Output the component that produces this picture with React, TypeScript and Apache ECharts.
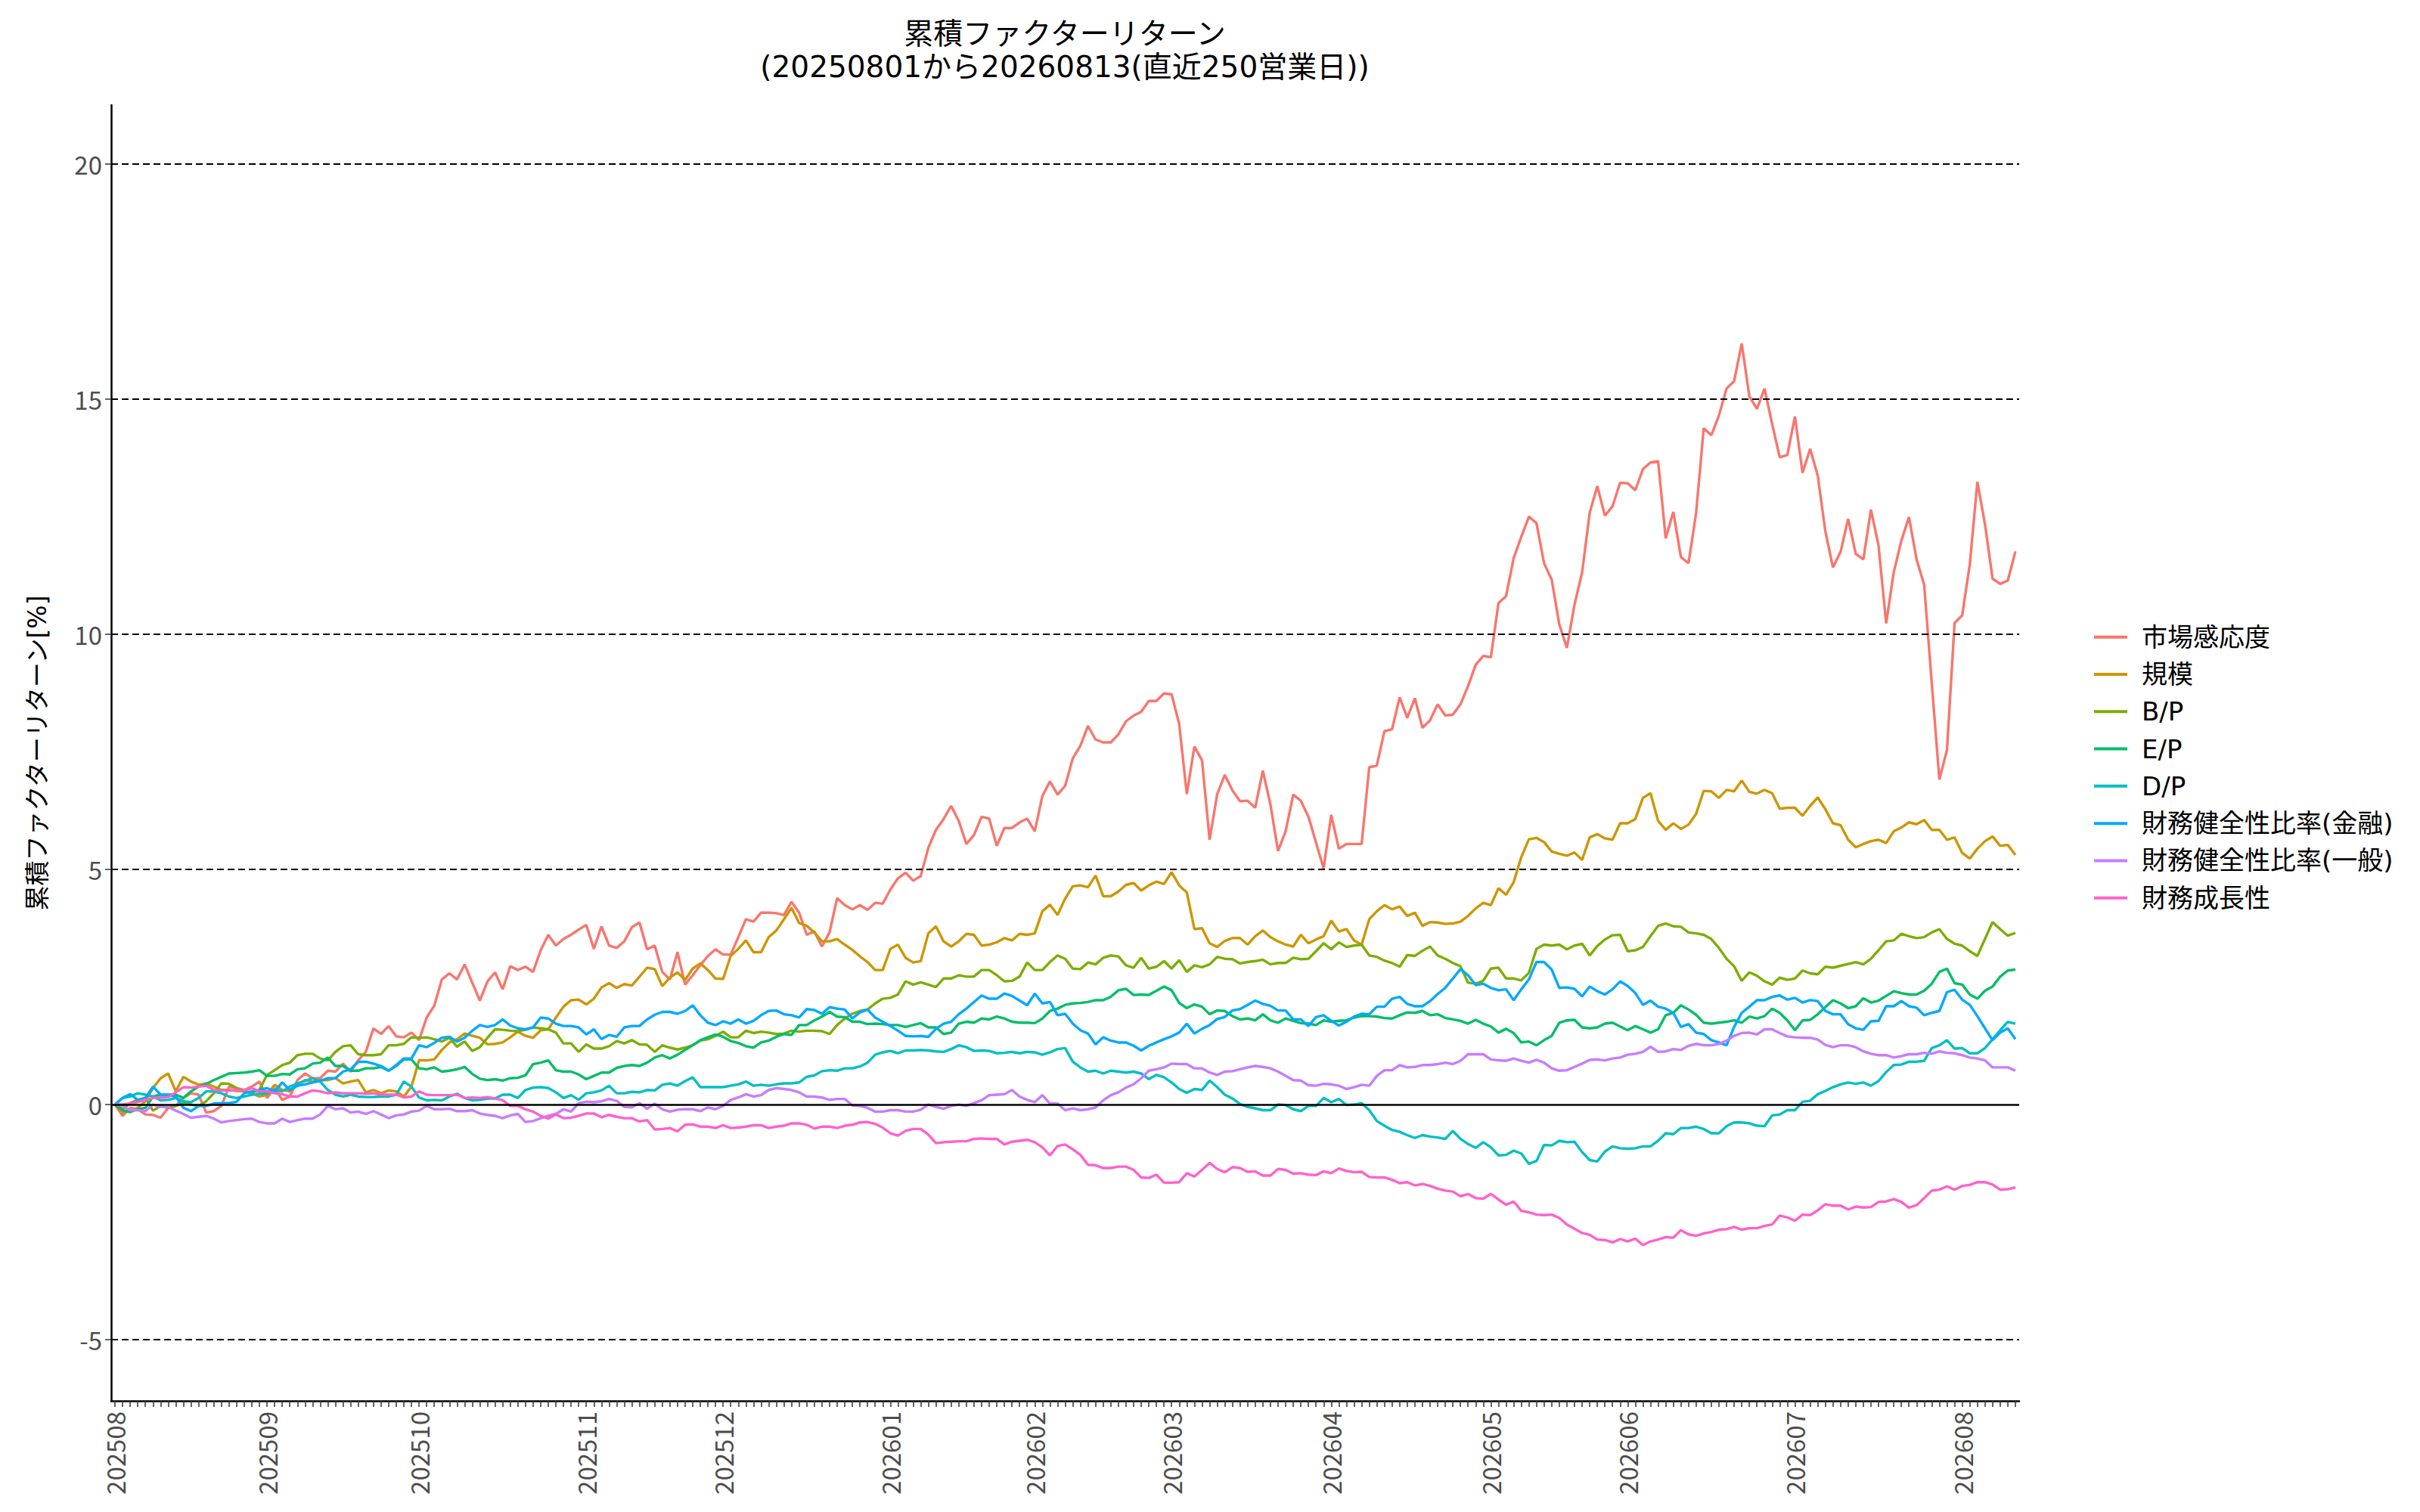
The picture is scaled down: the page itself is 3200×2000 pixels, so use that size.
import React, { useEffect, useRef } from "react";
import * as echarts from "echarts";

const titleLine1 = "累積ファクターリターン";
const titleLine2 = "(20250801から20260813(直近250営業日))";
const yAxisTitle = "累積ファクターリターン[%]";

const monthLabels = ["202508", "202509", "202510", "202511", "202512", "202601", "202602", "202603", "202604", "202605", "202606", "202607", "202608"];
const monthDays = [20, 20, 22, 18, 22, 19, 18, 21, 21, 18, 22, 22, 8];

const seriesNames = ["市場感応度", "規模", "B/P", "E/P", "D/P", "財務健全性比率(金融)", "財務健全性比率(一般)", "財務成長性"];
const seriesColors = ["#F8766D", "#CD9600", "#7CAE00", "#00BE67", "#00BFC4", "#00A9FF", "#C77CFF", "#FF61CC"];

const yTicks = [-5, 0, 5, 10, 15, 20];
const dashedLevels = [-5, 5, 10, 15, 20];

const mkt = [
  0, -0.24, -0.07, -0.10, -0.21, -0.22, -0.28, -0.07, -0.03, 0.14, 0.24, 0.21, -0.17, -0.14, -0.03, 0.38, 0.35, 0.31, 0.38, 0.49, 0.14, 0.35, 0.10, 0.17, 0.52, 0.66, 0.56, 0.56, 0.72, 0.70, 0.87, 0.70, 0.94, 1.12, 1.62, 1.50, 1.67, 1.45, 1.43, 1.53, 1.37, 1.85,
  2.10, 2.66, 2.79, 2.66, 2.98, 2.59, 2.21, 2.62, 2.81, 2.45, 2.94, 2.86, 2.93, 2.82, 3.28, 3.61, 3.38, 3.52, 3.61, 3.72, 3.82, 3.31, 3.79, 3.38, 3.33, 3.47, 3.77, 3.87, 3.30, 3.38, 2.82, 2.66, 3.24, 2.55, 2.75, 2.96, 3.16, 3.30, 3.19, 3.19, 3.56, 3.94,
  3.89, 4.08, 4.08, 4.07, 4.03, 4.31, 4.08, 3.61, 3.68, 3.36, 3.66, 4.39, 4.24, 4.15, 4.24, 4.14, 4.29, 4.27, 4.57, 4.81, 4.93, 4.76, 4.86, 5.46, 5.84, 6.07, 6.35, 6.03, 5.54, 5.73, 6.12, 6.08, 5.50, 5.88, 5.88, 6.00, 6.08, 5.81, 6.56, 6.87, 6.59, 6.78,
  7.36, 7.63, 8.05, 7.76, 7.70, 7.70, 7.87, 8.15, 8.27, 8.35, 8.58, 8.58, 8.74, 8.72, 8.09, 6.60, 7.61, 7.32, 5.63, 6.60, 7.01, 6.68, 6.45, 6.46, 6.31, 7.10, 6.38, 5.39, 5.81, 6.59, 6.46, 6.12, 5.57, 5.02, 6.16, 5.44, 5.54, 5.54, 5.54, 7.17, 7.21, 7.94,
  7.98, 8.66, 8.22, 8.64, 8.01, 8.17, 8.51, 8.27, 8.29, 8.51, 8.90, 9.35, 9.54, 9.51, 10.66, 10.81, 11.62, 12.07, 12.50, 12.36,
  11.51, 11.16, 10.21, 9.71, 10.63, 11.31, 12.58, 13.15, 12.52, 12.72, 13.22, 13.21, 13.06, 13.51, 13.65, 13.68, 12.04, 12.60, 11.64, 11.51, 12.58, 14.38, 14.23, 14.65, 15.22, 15.38, 16.18, 15.06, 14.79, 15.22, 14.47, 13.76, 13.81, 14.63, 13.43, 13.94, 13.37, 12.19, 11.42, 11.75, 12.45, 11.71, 11.59, 12.65, 11.88, 10.23, 11.32, 11.99, 12.49, 11.59, 11.05, 8.96, 6.91, 7.54, 10.24, 10.40, 11.48, 13.24, 12.34, 11.18, 11.07, 11.14, 11.76,
];

const size = [
  0, -0.17, -0.14, -0.07, 0.07, 0.35, 0.56, 0.66, 0.28, 0.59, 0.49, 0.42, 0.45, 0.38, 0.31, 0.31, 0.29, 0.28, 0.24, 0.17, 0.21, 0.42, 0.31, 0.28, 0.42, 0.52, 0.49, 0.52, 0.52, 0.56, 0.45, 0.49, 0.52, 0.26, 0.31, 0.24, 0.30, 0.28, 0.17, 0.38, 0.94, 0.94,
  0.96, 1.16, 1.32, 1.39, 1.51, 1.46, 1.42, 1.28, 1.29, 1.32, 1.43, 1.55, 1.46, 1.42, 1.58, 1.60, 1.85, 2.08, 2.22, 2.23, 2.13, 2.25, 2.49, 2.58, 2.48, 2.56, 2.53, 2.72, 2.91, 2.88, 2.52, 2.70, 2.81, 2.65, 2.89, 3.00, 2.86, 2.68, 2.67, 3.16, 3.31, 3.49,
  3.24, 3.24, 3.56, 3.70, 3.94, 4.18, 3.86, 3.80, 3.66, 3.47, 3.47, 3.52, 3.40, 3.29, 3.15, 3.03, 2.86, 2.86, 3.31, 3.40, 3.12, 3.02, 3.05, 3.64, 3.79, 3.47, 3.36, 3.47, 3.63, 3.61, 3.38, 3.40, 3.45, 3.54, 3.49, 3.63, 3.61, 3.64, 4.11, 4.25, 4.03, 4.38,
  4.64, 4.66, 4.62, 4.87, 4.43, 4.43, 4.53, 4.67, 4.71, 4.55, 4.66, 4.74, 4.69, 4.94, 4.66, 4.51, 3.73, 3.75, 3.43, 3.35, 3.48, 3.54, 3.54, 3.40, 3.58, 3.70, 3.56, 3.47, 3.40, 3.36, 3.61, 3.43, 3.51, 3.58, 3.91, 3.68, 3.73, 3.49, 3.40, 3.94, 4.11, 4.24,
  4.15, 4.21, 4.01, 4.08, 3.80, 3.88, 3.87, 3.84, 3.85, 3.89, 4.01, 4.17, 4.29, 4.24, 4.60, 4.46, 4.73, 5.26, 5.64, 5.67, 5.58, 5.38, 5.33, 5.29, 5.36, 5.20, 5.68, 5.75, 5.66, 5.63, 5.98, 5.98, 6.07, 6.52, 6.62, 6.03, 5.84, 5.98, 5.86, 5.95, 6.18,
  6.67, 6.66, 6.52, 6.69, 6.66, 6.89, 6.65, 6.61, 6.69, 6.62, 6.29, 6.31, 6.31, 6.14, 6.35, 6.53, 6.28, 5.98, 5.94, 5.63, 5.47, 5.54, 5.60, 5.63, 5.56, 5.81, 5.89, 6.00, 5.96, 6.05, 5.84, 5.84, 5.63, 5.68, 5.35, 5.23, 5.44, 5.60, 5.70, 5.50, 5.52, 5.31,
];

const bp = [
  0, -0.10, 0.03, 0.10, 0.14, -0.13, -0.03, -0.07, -0.03, 0.03, 0, -0.03, 0.07, 0.24, 0.45, 0.44, 0.35, 0.28, 0.26, 0.31, 0.63, 0.73, 0.84, 0.89, 1.05, 1.08, 1.08, 0.98, 0.94, 1.12, 1.24, 1.26, 1.07, 1.05, 1.05, 1.07, 1.26, 1.26, 1.29, 1.43, 1.42, 1.43,
  1.39, 1.34, 1.42, 1.23, 1.34, 1.14, 1.22, 1.42, 1.60, 1.59, 1.57, 1.56, 1.59, 1.64, 1.62, 1.60, 1.53, 1.30, 1.30, 1.12, 1.28, 1.19, 1.19, 1.24, 1.35, 1.30, 1.37, 1.28, 1.27, 1.12, 1.26, 1.21, 1.17, 1.21, 1.26, 1.36, 1.39, 1.46, 1.55, 1.43, 1.43, 1.57,
  1.52, 1.55, 1.53, 1.50, 1.51, 1.57, 1.55, 1.57, 1.57, 1.56, 1.50, 1.69, 1.83, 1.93, 1.99, 2.02, 2.15, 2.25, 2.27, 2.34, 2.62, 2.55, 2.60, 2.55, 2.50, 2.68, 2.68, 2.75, 2.72, 2.72, 2.86, 2.86, 2.75, 2.62, 2.63, 2.72, 3.02, 2.86, 2.86, 3.03, 3.17, 3.10,
  2.89, 2.88, 3.02, 2.98, 3.12, 3.17, 3.15, 2.96, 2.91, 3.12, 2.89, 2.93, 3.05, 2.89, 3.07, 2.82, 2.96, 2.92, 2.98, 3.14, 3.10, 3.09, 3.00, 3.03, 3.05, 3.08, 2.98, 3.01, 3.01, 3.12, 3.09, 3.10, 3.26, 3.43, 3.30, 3.45, 3.35, 3.38, 3.40, 3.17, 3.14, 3.06,
  3.01, 2.93, 3.18, 3.16, 3.27, 3.36, 3.17, 3.10, 3.01, 2.94, 2.59, 2.57, 2.63, 2.89, 2.91, 2.68, 2.68, 2.64, 2.80, 3.31, 3.40, 3.38, 3.40, 3.30, 3.38, 3.42, 3.17, 3.37, 3.51, 3.60, 3.61, 3.26, 3.28, 3.35, 3.58, 3.80, 3.85, 3.79, 3.78, 3.66, 3.64,
  3.61, 3.52, 3.33, 3.10, 2.94, 2.63, 2.81, 2.74, 2.62, 2.55, 2.70, 2.65, 2.68, 2.85, 2.79, 2.77, 2.93, 2.91, 2.95, 2.99, 3.03, 2.98, 3.10, 3.28, 3.47, 3.49, 3.63, 3.58, 3.54, 3.56, 3.66, 3.73, 3.52, 3.42, 3.38, 3.26, 3.16, 3.52, 3.88, 3.73, 3.59, 3.65,
];

const ep = [
  0, -0.12, -0.16, -0.10, -0.07, 0.17, 0.21, 0.21, 0.21, 0.14, 0.28, 0.38, 0.44, 0.52, 0.59, 0.66, 0.67, 0.68, 0.70, 0.73, 0.61, 0.61, 0.65, 0.64, 0.75, 0.77, 0.87, 0.89, 1.00, 0.82, 0.82, 0.72, 0.72, 0.77, 0.77, 0.80, 0.72, 0.82, 0.96, 0.96, 0.77, 0.75,
  0.79, 0.70, 0.72, 0.75, 0.80, 0.65, 0.55, 0.52, 0.54, 0.51, 0.56, 0.57, 0.62, 0.86, 0.89, 0.94, 0.73, 0.70, 0.70, 0.64, 0.54, 0.61, 0.68, 0.68, 0.78, 0.82, 0.84, 0.82, 0.89, 1.00, 1.05, 0.98, 1.06, 1.16, 1.26, 1.37, 1.43, 1.49, 1.44, 1.35, 1.31, 1.24,
  1.21, 1.32, 1.36, 1.44, 1.50, 1.48, 1.69, 1.69, 1.79, 1.87, 1.97, 1.87, 1.86, 1.76, 1.76, 1.71, 1.72, 1.71, 1.69, 1.69, 1.65, 1.69, 1.73, 1.64, 1.64, 1.50, 1.53, 1.72, 1.76, 1.74, 1.83, 1.81, 1.87, 1.83, 1.76, 1.74, 1.74, 1.73, 1.83, 1.99, 2.04, 2.12,
  2.15, 2.16, 2.18, 2.22, 2.22, 2.29, 2.43, 2.46, 2.33, 2.34, 2.33, 2.42, 2.51, 2.43, 2.16, 2.05, 2.13, 2.08, 1.92, 2.00, 1.99, 1.88, 1.81, 1.83, 1.79, 1.92, 1.79, 1.74, 1.83, 1.78, 1.73, 1.72, 1.69, 1.79, 1.76, 1.78, 1.79, 1.85, 1.88, 1.88, 1.87, 1.84,
  1.83, 1.90, 1.96, 1.95, 1.99, 1.90, 1.92, 1.84, 1.81, 1.78, 1.72, 1.80, 1.72, 1.66, 1.53, 1.61, 1.52, 1.32, 1.34, 1.26, 1.37, 1.46, 1.74, 1.79, 1.80, 1.64, 1.62, 1.64, 1.72, 1.74, 1.66, 1.58, 1.67, 1.60, 1.53, 1.60, 1.90, 1.95, 2.11, 2.02, 1.91,
  1.74, 1.72, 1.74, 1.76, 1.79, 1.74, 1.87, 1.83, 1.88, 2.04, 1.95, 1.79, 1.58, 1.79, 1.80, 1.92, 2.07, 2.22, 2.15, 2.05, 2.09, 2.26, 2.17, 2.21, 2.31, 2.41, 2.37, 2.34, 2.34, 2.42, 2.57, 2.82, 2.89, 2.58, 2.55, 2.34, 2.25, 2.42, 2.51, 2.72, 2.85, 2.87,
];

const dp = [
  0, 0.14, 0.17, 0.24, 0.21, 0.17, 0.09, 0.10, 0.14, 0.07, 0.05, 0.14, 0.28, 0.28, 0.24, 0.17, 0.14, 0.17, 0.21, 0.23, 0.24, 0.31, 0.28, 0.38, 0.45, 0.50, 0.56, 0.49, 0.31, 0.21, 0.17, 0.21, 0.17, 0.16, 0.16, 0.17, 0.17, 0.21, 0.49, 0.38, 0.15, 0.09,
  0.10, 0.09, 0.17, 0.23, 0.14, 0.09, 0.10, 0.13, 0.13, 0.21, 0.21, 0.14, 0.31, 0.36, 0.37, 0.35, 0.26, 0.14, 0.20, 0.10, 0.24, 0.26, 0.30, 0.40, 0.24, 0.24, 0.27, 0.26, 0.31, 0.30, 0.42, 0.45, 0.40, 0.50, 0.58, 0.37, 0.37, 0.37, 0.37, 0.40, 0.43, 0.49,
  0.40, 0.42, 0.40, 0.43, 0.45, 0.45, 0.47, 0.59, 0.62, 0.71, 0.73, 0.72, 0.77, 0.77, 0.81, 0.89, 1.06, 1.11, 1.14, 1.09, 1.15, 1.15, 1.16, 1.15, 1.13, 1.12, 1.18, 1.26, 1.22, 1.14, 1.15, 1.14, 1.09, 1.10, 1.12, 1.09, 1.12, 1.11, 1.06, 1.11, 1.18, 1.20,
  0.91, 0.79, 0.70, 0.72, 0.66, 0.72, 0.70, 0.68, 0.70, 0.66, 0.54, 0.63, 0.58, 0.47, 0.33, 0.25, 0.33, 0.31, 0.51, 0.37, 0.21, 0.13, 0.01, -0.05, -0.08, -0.12, -0.12, 0.00, -0.01, -0.10, -0.14, -0.03, -0.03, 0.14, 0.05, 0.12, -0.01, 0.00, 0.03, -0.12, -0.35, -0.45,
  -0.54, -0.58, -0.65, -0.71, -0.65, -0.68, -0.70, -0.73, -0.56, -0.73, -0.84, -0.92, -0.80, -0.91, -1.08, -1.07, -0.98, -1.04, -1.26, -1.20, -0.86, -0.87, -0.77, -0.80, -0.79, -1.01, -1.18, -1.21, -1.00, -0.89, -0.93, -0.94, -0.93, -0.89, -0.89, -0.77, -0.61, -0.63, -0.50, -0.50, -0.47,
  -0.52, -0.61, -0.61, -0.46, -0.38, -0.38, -0.40, -0.45, -0.46, -0.23, -0.21, -0.12, -0.12, 0.06, 0.08, 0.22, 0.29, 0.37, 0.43, 0.47, 0.44, 0.47, 0.40, 0.50, 0.69, 0.84, 0.85, 0.91, 0.91, 0.93, 1.20, 1.26, 1.37, 1.19, 1.20, 1.09, 1.09, 1.20, 1.39, 1.58, 1.76, 1.72,
];

const finFinancial = [
  0, 0.14, 0.22, 0.10, 0.14, 0.38, 0.21, 0.20, 0.17, -0.07, -0.14, -0.03, -0.03, 0.02, 0.03, 0.03, 0.06, 0.24, 0.28, 0.31, 0.35, 0.28, 0.47, 0.31, 0.40, 0.43, 0.47, 0.50, 0.56, 0.56, 0.70, 0.75, 0.91, 0.91, 0.87, 0.82, 0.72, 0.84, 0.98, 0.98, 1.26, 1.22,
  1.31, 1.42, 1.44, 1.34, 1.42, 1.57, 1.69, 1.65, 1.69, 1.81, 1.68, 1.62, 1.60, 1.64, 1.85, 1.83, 1.72, 1.67, 1.67, 1.64, 1.49, 1.60, 1.39, 1.48, 1.44, 1.64, 1.67, 1.67, 1.81, 1.91, 1.97, 1.97, 1.93, 1.99, 2.11, 1.90, 1.74, 1.69, 1.77, 1.72, 1.81, 1.72,
  1.78, 1.90, 1.99, 2.00, 1.92, 1.90, 1.85, 2.03, 2.01, 1.93, 2.07, 2.04, 2.02, 1.83, 1.96, 2.02, 1.85, 1.76, 1.67, 1.57, 1.46, 1.45, 1.46, 1.44, 1.61, 1.72, 1.76, 1.92, 2.04, 2.18, 2.32, 2.25, 2.25, 2.36, 2.31, 2.21, 2.11, 2.36, 2.15, 2.18, 1.90, 1.93,
  1.72, 1.58, 1.51, 1.28, 1.43, 1.36, 1.32, 1.32, 1.25, 1.15, 1.25, 1.32, 1.39, 1.45, 1.53, 1.72, 1.51, 1.61, 1.69, 1.82, 1.86, 2.00, 2.03, 2.12, 2.21, 2.14, 2.10, 2.00, 2.00, 1.81, 1.81, 1.67, 1.86, 1.90, 1.78, 1.68, 1.76, 1.87, 1.93, 1.92, 2.08, 2.08,
  2.25, 2.29, 2.14, 2.09, 2.09, 2.20, 2.35, 2.48, 2.68, 2.88, 2.75, 2.54, 2.57, 2.48, 2.43, 2.45, 2.22, 2.45, 2.66, 3.03, 3.03, 2.87, 2.48, 2.49, 2.46, 2.30, 2.51, 2.41, 2.34, 2.45, 2.62, 2.52, 2.37, 2.12, 2.21, 2.08, 2.04, 1.95, 1.65, 1.71, 1.53,
  1.50, 1.37, 1.32, 1.26, 1.65, 1.95, 2.08, 2.22, 2.22, 2.29, 2.32, 2.23, 2.27, 2.17, 2.22, 2.20, 1.99, 1.92, 1.92, 1.71, 1.62, 1.59, 1.77, 1.78, 2.09, 2.09, 2.20, 2.09, 2.06, 1.90, 1.95, 1.99, 2.39, 2.44, 2.23, 2.12, 1.88, 1.62, 1.37, 1.53, 1.62, 1.39,
];

const finGeneral = [
  0, -0.03, -0.12, -0.12, -0.14, 0, -0.05, -0.05, -0.13, -0.20, -0.28, -0.26, -0.24, -0.30, -0.38, -0.35, -0.33, -0.31, -0.30, -0.37, -0.40, -0.40, -0.30, -0.37, -0.33, -0.30, -0.30, -0.21, -0.03, -0.10, -0.08, -0.17, -0.15, -0.20, -0.14, -0.21, -0.29, -0.23, -0.21, -0.15, -0.13, -0.03,
  -0.10, -0.10, -0.09, -0.14, -0.14, -0.12, -0.19, -0.22, -0.24, -0.29, -0.23, -0.20, -0.37, -0.35, -0.29, -0.24, -0.20, -0.10, -0.15, 0.03, 0.06, 0.05, 0.07, 0.12, 0.08, -0.05, -0.06, 0.03, -0.09, 0.02, -0.10, -0.15, -0.11, -0.10, -0.10, -0.14, -0.06, -0.10, -0.03, 0.10, 0.15, 0.22,
  0.17, 0.20, 0.31, 0.35, 0.33, 0.31, 0.26, 0.17, 0.17, 0.15, 0.10, 0.12, 0.12, -0.02, -0.03, -0.07, -0.15, -0.15, -0.12, -0.12, -0.15, -0.15, -0.11, 0, -0.05, -0.09, -0.03, 0, -0.03, 0.03, 0.09, 0.20, 0.21, 0.22, 0.31, 0.17, 0.10, 0.05, 0.20, 0.02, 0.02, -0.12,
  -0.08, -0.12, -0.10, -0.06, 0.09, 0.20, 0.26, 0.36, 0.43, 0.56, 0.72, 0.75, 0.79, 0.87, 0.86, 0.86, 0.77, 0.77, 0.68, 0.63, 0.70, 0.71, 0.75, 0.79, 0.82, 0.80, 0.77, 0.70, 0.61, 0.52, 0.51, 0.41, 0.40, 0.44, 0.43, 0.40, 0.33, 0.37, 0.42, 0.40, 0.61, 0.73,
  0.73, 0.84, 0.79, 0.80, 0.84, 0.84, 0.86, 0.89, 0.86, 0.93, 1.07, 1.07, 1.07, 0.96, 0.94, 0.93, 0.98, 0.93, 0.89, 0.95, 0.89, 0.77, 0.72, 0.73, 0.80, 0.87, 0.95, 0.96, 0.94, 0.98, 1.00, 1.06, 1.08, 1.12, 1.23, 1.12, 1.13, 1.18, 1.16, 1.25, 1.29,
  1.26, 1.26, 1.29, 1.36, 1.46, 1.52, 1.53, 1.49, 1.60, 1.60, 1.52, 1.45, 1.43, 1.42, 1.42, 1.38, 1.27, 1.22, 1.26, 1.26, 1.22, 1.13, 1.08, 1.05, 1.05, 1.00, 1.03, 1.07, 1.07, 1.10, 1.08, 1.13, 1.10, 1.09, 1.05, 1.00, 0.98, 0.94, 0.79, 0.79, 0.79, 0.72,
];

const growth = [
  0, 0, 0.02, 0.05, 0.10, 0.14, 0.15, 0.16, 0.26, 0.37, 0.36, 0.38, 0.40, 0.31, 0.30, 0.30, 0.31, 0.30, 0.35, 0.28, 0.28, 0.24, 0.22, 0.17, 0.17, 0.24, 0.30, 0.28, 0.24, 0.26, 0.24, 0.24, 0.24, 0.23, 0.24, 0.21, 0.21, 0.21, 0.15, 0.17, 0.28, 0.21,
  0.20, 0.20, 0.20, 0.21, 0.14, 0.15, 0.14, 0.16, 0.13, 0.09, -0.03, -0.03, -0.10, -0.15, -0.24, -0.30, -0.21, -0.29, -0.28, -0.24, -0.19, -0.19, -0.27, -0.22, -0.26, -0.29, -0.29, -0.36, -0.33, -0.53, -0.52, -0.50, -0.57, -0.43, -0.42, -0.47, -0.47, -0.50, -0.44, -0.50, -0.49, -0.47,
  -0.44, -0.44, -0.50, -0.47, -0.45, -0.40, -0.40, -0.43, -0.51, -0.47, -0.47, -0.50, -0.45, -0.43, -0.38, -0.37, -0.41, -0.49, -0.61, -0.66, -0.56, -0.52, -0.52, -0.64, -0.82, -0.80, -0.79, -0.78, -0.78, -0.73, -0.72, -0.73, -0.73, -0.85, -0.79, -0.77, -0.75, -0.80, -0.91, -1.08, -0.88, -0.85,
  -0.95, -1.07, -1.28, -1.29, -1.35, -1.35, -1.32, -1.32, -1.39, -1.55, -1.56, -1.49, -1.66, -1.66, -1.65, -1.46, -1.53, -1.39, -1.24, -1.37, -1.44, -1.33, -1.35, -1.43, -1.42, -1.51, -1.51, -1.37, -1.39, -1.47, -1.46, -1.49, -1.50, -1.42, -1.46, -1.36, -1.41, -1.44, -1.43, -1.54, -1.55, -1.55,
  -1.60, -1.67, -1.65, -1.72, -1.69, -1.73, -1.79, -1.83, -1.85, -1.95, -1.90, -1.99, -2.00, -1.90, -2.02, -2.13, -2.06, -2.26, -2.29, -2.34, -2.35, -2.34, -2.41, -2.55, -2.64, -2.73, -2.77, -2.87, -2.88, -2.93, -2.86, -2.91, -2.85, -2.99, -2.91, -2.87, -2.82, -2.83, -2.67, -2.76, -2.79,
  -2.74, -2.71, -2.66, -2.65, -2.60, -2.66, -2.63, -2.63, -2.58, -2.55, -2.36, -2.40, -2.47, -2.34, -2.35, -2.25, -2.12, -2.15, -2.15, -2.23, -2.17, -2.19, -2.18, -2.07, -2.06, -2.01, -2.07, -2.19, -2.14, -1.99, -1.83, -1.81, -1.74, -1.81, -1.73, -1.71, -1.65, -1.65, -1.70, -1.81, -1.80, -1.76,
];

const seriesValues = [mkt, size, bp, ep, dp, finFinancial, finGeneral, growth];

const TICK_FONT = '"Noto Sans CJK JP", "Noto Sans", sans-serif';
const TEXT_FONT = '"DejaVu Sans", "Noto Sans CJK JP", sans-serif';

export default function App() {
  const ref = useRef<HTMLDivElement>(null);

  useEffect(() => {
    if (!ref.current) return;
    const chart = echarts.init(ref.current, null, { renderer: "svg" });

    const categories: string[] = [];
    const monthStarts = new Set<number>();
    monthLabels.forEach((m, k) => {
      monthStarts.add(categories.length);
      for (let d = 0; d < monthDays[k]; d++) categories.push(m + "-" + (d + 1));
    });

    const refLines = [
      ...dashedLevels.map((v) => ({ yAxis: v, lineStyle: { type: [9, 5], color: "#000", width: 2 } })),
      { yAxis: 0, lineStyle: { type: "solid", color: "#000", width: 2.5 } },
    ];

    const option: any = {
      animation: false,
      backgroundColor: "#ffffff",
      grid: { left: 147, right: 530, top: 139, bottom: 147, containLabel: false },
      xAxis: {
        type: "category",
        data: categories,
        boundaryGap: true,
        axisLine: { show: true, onZero: false, lineStyle: { color: "#000", width: 2.5 } },
        axisTick: { show: true, interval: 0, alignWithLabel: true, length: 8, lineStyle: { color: "#333", width: 1.5 } },
        axisLabel: {
          interval: (idx: number) => monthStarts.has(idx),
          rotate: 90,
          formatter: (v: string) => v.slice(0, 6),
          fontSize: 33,
          color: "#4d4d4d",
          fontFamily: TICK_FONT,
          margin: 14,
        },
        splitLine: { show: false },
      },
      yAxis: {
        type: "value",
        min: -6.3,
        max: 21.25,
        axisLine: { show: true, lineStyle: { color: "#000", width: 2.5 } },
        axisTick: { show: true, customValues: yTicks, length: 8, lineStyle: { color: "#333", width: 1.5 } },
        axisLabel: { customValues: yTicks, fontSize: 33, color: "#4d4d4d", fontFamily: TICK_FONT, margin: 12 },
        splitLine: { show: false },
      },
      legend: {
        orient: "vertical",
        left: 2764,
        top: 813,
        data: seriesNames.map((n) => ({ name: n, icon: "rect" })),
        itemWidth: 44,
        itemHeight: 4,
        itemGap: 0,
        selectedMode: false,
        textStyle: { fontSize: 34, color: "#000", fontFamily: TEXT_FONT, lineHeight: 49.3, padding: [0, 0, 0, 14] },
      },
      graphic: [
        {
          type: "text",
          x: 1408,
          y: 44,
          style: { text: titleLine1, fontSize: 39, lineHeight: 40, fontFamily: TEXT_FONT, fill: "#000", align: "center", verticalAlign: "middle" },
        },
        {
          type: "text",
          x: 1408,
          y: 88,
          style: { text: titleLine2, fontSize: 39, lineHeight: 40, fontFamily: TEXT_FONT, fill: "#000", align: "center", verticalAlign: "middle" },
        },
        {
          type: "text",
          x: 49,
          y: 996,
          rotation: Math.PI / 2,
          style: { text: yAxisTitle, fontSize: 33, fontFamily: TEXT_FONT, fill: "#000", align: "center", verticalAlign: "middle" },
        },
      ],
      series: [
        {
          type: "line",
          name: "_ref",
          data: [],
          z: 1,
          silent: true,
          markLine: { silent: true, symbol: ["none", "none"], label: { show: false }, emphasis: { disabled: true }, data: refLines },
        },
        ...seriesNames.map((name, k) => ({
          type: "line",
          name,
          data: seriesValues[k],
          z: 2,
          showSymbol: false,
          symbol: "none",
          smooth: false,
          color: seriesColors[k],
          lineStyle: { width: 3.4, color: seriesColors[k] },
          emphasis: { disabled: true },
        })),
      ],
    };

    chart.setOption(option);
    return () => chart.dispose();
  }, []);

  return (
    <div
      ref={ref}
      style={{ position: "fixed", left: 0, top: 0, width: 3200, height: 2000, background: "#fff" }}
    />
  );
}
